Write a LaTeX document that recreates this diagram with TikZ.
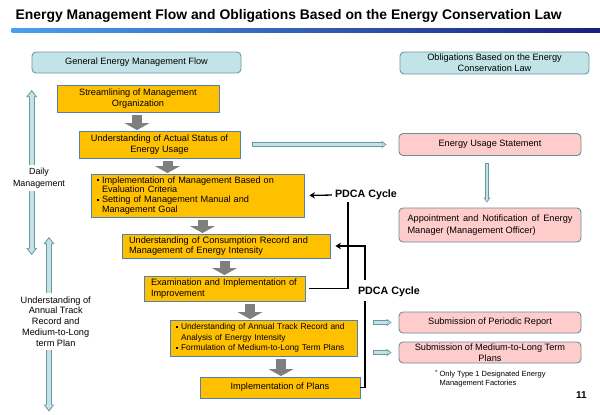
\documentclass[tikz,border=0pt]{standalone}
\usepackage{fontspec}
\setmainfont{Liberation Sans}
\usetikzlibrary{arrows.meta,calc}
\definecolor{orangefill}{HTML}{FFC000}
\definecolor{orangeborder}{HTML}{5080B8}
\definecolor{hdrfill}{HTML}{C2E4E6}
\definecolor{hdrborder}{HTML}{6B98A3}
\definecolor{pinkfill}{HTML}{FFCCCC}
\definecolor{pinkborder}{HTML}{6B8F99}
\definecolor{arrowfill}{HTML}{C4E3E7}
\definecolor{arrowborder}{HTML}{6A97A1}
\definecolor{blockgray}{HTML}{7F7F7F}
\definecolor{gradleft}{HTML}{4AA0EE}
\definecolor{gradright}{HTML}{1A1F7C}
\newcommand{\bxfont}{\fontsize{9.2}{10.7}\selectfont}
\newcommand{\bul}{\makebox[5pt][l]{\raisebox{0.45ex}{\rule{1.5pt}{1.5pt}}}}
\newcommand{\nobul}{\hspace*{5pt}}
\tikzset{
  obox/.style={draw=orangeborder, fill=orangefill, line width=0.9pt, inner sep=0pt, font=\bxfont, align=center},
  hdr/.style={draw=hdrborder, fill=hdrfill, line width=0.9pt, rounded corners=4pt, inner sep=0pt, font=\bxfont, align=center},
  pbox/.style={draw=pinkborder, fill=pinkfill, line width=0.9pt, rounded corners=4pt, inner sep=0pt, font=\bxfont, align=center},
  blockarrow/.style={draw=blockgray, line width=10pt, -{Triangle[width=25pt,length=7pt,line width=0pt]}, shorten <=3pt, shorten >=0.5pt},
  bigout/.style={draw=arrowborder, line width=6pt, {Triangle[width=11pt,length=7pt,line width=0pt]}-{Triangle[width=11pt,length=7pt,line width=0pt]}},
  bigin/.style={draw=arrowfill, line width=4pt, {Triangle[width=7.4pt,length=4.7pt,line width=0pt]}-{Triangle[width=7.4pt,length=4.7pt,line width=0pt]}, shorten <=1.6pt, shorten >=1.6pt},
  thinout/.style={draw=arrowborder, line width=4.2pt, -{Triangle[width=7.5pt,length=5pt,line width=0pt]}},
  thinin/.style={draw=arrowfill, line width=2.2pt, -{Triangle[width=4pt,length=2.7pt,line width=0pt]}},
  downout/.style={draw=arrowborder, line width=3.6pt, -{Triangle[width=7pt,length=5pt,line width=0pt]}},
  downin/.style={draw=arrowfill, line width=1.6pt, -{Triangle[width=3.4pt,length=2.4pt,line width=0pt]}},
  pdcalabel/.style={font=\fontsize{10.7}{12}\selectfont\bfseries, inner sep=1pt},
  pdcaline/.style={line width=1.3pt, draw=black},
  pdcaarrow/.style={pdcaline, -{Stealth[length=5.5pt,width=6.5pt]}},
  lefttext/.style={fill=white, align=center, inner xsep=1pt}
}
\begin{document}
\begin{tikzpicture}[x=1pt, y=-1pt]
\useasboundingbox (0,0) rectangle (600,415);
\fill[white] (0,0) rectangle (600,415);

% title and gradient rule
\node[anchor=west, font=\fontsize{13.9}{16}\selectfont\bfseries, inner sep=0pt] (title) at (15.5,16) {Energy Management Flow and Obligations Based on the Energy Conservation Law};
\shade[left color=gradleft, right color=gradright] (11.6,28) rectangle (600,32.5);

% headers
\node[hdr, minimum width=209pt, minimum height=21pt] (hdr1) at (136.5,62.5) {General Energy Management Flow};
\node[hdr, minimum width=189pt, minimum height=22pt, font=\fontsize{9.2}{11}\selectfont] (hdr2) at (494.5,63) {Obligations Based on the Energy\\Conservation Law};

% orange flow boxes
\node[obox, minimum width=162pt, minimum height=27pt, font=\fontsize{9.2}{11}\selectfont] (b1) at (138,98.5) {Streamlining of Management\\Organization};
\node[obox, minimum width=161pt, minimum height=27pt] (b2) at (159.5,144.5) {Understanding of Actual Status of\\Energy Usage};
\node[obox, align=left, inner xsep=6pt, text width=201pt, minimum height=43pt, font=\fontsize{9.15}{9.8}\selectfont] (b3) at (197.5,195.5) {\bul Implementation of Management Based on\\\nobul Evaluation Criteria\\\bul Setting of Management Manual and\\\nobul Management Goal};
\node[obox, align=left, inner xsep=7pt, text width=194pt, minimum height=24pt] (b4) at (226,246) {Understanding of Consumption Record and\\Management of Energy Intensity};
\node[obox, align=left, inner xsep=7pt, text width=147pt, minimum height=25pt, font=\fontsize{9.2}{11}\selectfont] (b5) at (224.5,288.5) {Examination and Implementation of\\Improvement};
\node[obox, align=left, inner xsep=6pt, text width=175pt, minimum height=36pt, font=\fontsize{8.4}{10.5}\selectfont] (b6) at (263.5,338) {\bul Understanding of Annual Track Record and\\\nobul Analysis of Energy Intensity\\\bul Formulation of Medium-to-Long Term Plans};
\node[obox, minimum width=160pt, minimum height=21pt] (b7) at (280,387.5) {Implementation of Plans};

% gray block arrows
\coordinate (g1) at (137,0);
\coordinate (g2) at (167.5,0);
\coordinate (g3) at (202.5,0);
\coordinate (g4) at (224.5,0);
\coordinate (g5) at (250,0);
\coordinate (g6) at (281,0);
\draw[blockarrow] (b1.south -| g1) -- (b2.north -| g1);
\draw[blockarrow] (b2.south -| g2) -- (b3.north -| g2);
\draw[blockarrow] (b3.south -| g3) -- (b4.north -| g3);
\draw[blockarrow] (b4.south -| g4) -- (b5.north -| g4);
\draw[blockarrow] (b5.south -| g5) -- (b6.north -| g5);
\draw[blockarrow] (b6.south -| g6) -- (b7.north -| g6);

% pink obligation boxes
\node[pbox, minimum width=182pt, minimum height=22pt] (p1) at (490,144.5) {Energy Usage Statement};
\node[pbox, minimum width=182pt, minimum height=34pt, font=\fontsize{9.2}{11.5}\selectfont] (p2) at (490,225) {\makebox[165pt][s]{Appointment and Notification of Energy}\\\makebox[165pt][l]{Manager (Management Officer)}};
\node[pbox, minimum width=182pt, minimum height=21pt] (p3) at (490,322.5) {Submission of Periodic Report};
\node[pbox, minimum width=182pt, minimum height=21pt, font=\fontsize{9.2}{10.5}\selectfont] (p4) at (490,352.5) {Submission of Medium-to-Long Term\\Plans};
\node[anchor=north west, font=\fontsize{7.5}{9.8}\selectfont, align=left, inner sep=0pt] (note) at (435,370.5) {\raisebox{0.3ex}{\fontsize{6}{6}\selectfont *} Only Type 1 Designated Energy\\\hphantom{\raisebox{0.3ex}{\fontsize{6}{6}\selectfont *} }Management Factories};
\node[font=\fontsize{10}{11}\selectfont\bfseries, inner sep=0pt] (pagenum) at (581.5,395.5) {11};

% hollow arrows to obligations
\draw[thinout, shorten <=12pt, shorten >=12pt] (b2.east) -- (p1.west);
\draw[thinin, shorten <=12.8pt, shorten >=13.4pt] (b2.east) -- (p1.west);
\coordinate (v1) at (487,0);
\draw[downout, shorten <=7pt, shorten >=5pt] (p1.south -| v1) -- (p2.north -| v1);
\draw[downin, shorten <=7.8pt, shorten >=6.3pt] (p1.south -| v1) -- (p2.north -| v1);
\coordinate (s3) at (373,322.5);
\coordinate (s4) at (373,352.5);
\draw[thinout, shorten >=7pt] (s3) -- (p3.west);
\draw[thinin, shorten <=0.8pt, shorten >=8.4pt] (s3) -- (p3.west);
\draw[thinout, shorten >=7pt] (s4) -- (p4.west);
\draw[thinin, shorten <=0.8pt, shorten >=8.4pt] (s4) -- (p4.west);

% left double arrows
\coordinate (d1t) at (31.7,90);
\coordinate (d1b) at (31.7,255);
\draw[bigout] (d1t) -- (d1b);
\draw[bigin] (d1t) -- (d1b);
\node[lefttext, font=\fontsize{8.9}{12}\selectfont, inner ysep=2.5pt] (daily) at (39,178) {Daily\\Management};
\coordinate (d2t) at (49,237);
\coordinate (d2b) at (49,411.5);
\draw[bigout] (d2t) -- (d2b);
\draw[bigin] (d2t) -- (d2b);
\node[lefttext, font=\fontsize{9.2}{10.8}\selectfont, inner ysep=4pt] (annual) at (55.7,321.5) {Understanding of\\Annual Track\\Record and\\Medium-to-Long\\term Plan};

% PDCA cycles
\node[pdcalabel] (pdca1) at (366,195) {PDCA Cycle};
\node[pdcalabel] (pdca2) at (389,292) {PDCA Cycle};
\draw[pdcaarrow, shorten <=2pt, shorten >=5pt] (pdca1.west) -- (b3.east);
\coordinate (v2) at (348,0);
\draw[pdcaline, shorten <=1pt, shorten >=4pt] (pdca1.south -| v2) |- (b5.east);
\coordinate (v3) at (365,0);
\draw[pdcaline, shorten >=3pt] (b7.east) -| (pdca2.south -| v3);
\draw[pdcaarrow, shorten <=6pt, shorten >=5pt] (pdca2.north -| v3) |- (b4.east);
\end{tikzpicture}
\end{document}
